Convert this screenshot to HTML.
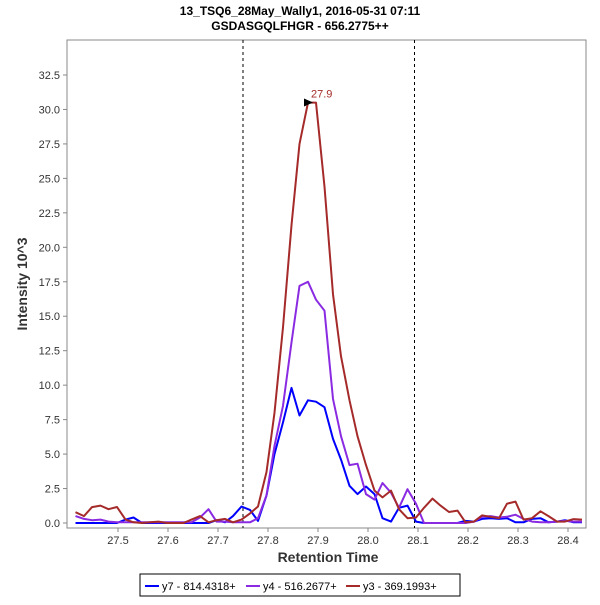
<!DOCTYPE html>
<html><head><meta charset="utf-8"><style>
body{margin:0;background:#fff;font-family:"Liberation Sans",sans-serif}
</style></head><body>
<svg id="chart" width="600" height="600" xmlns="http://www.w3.org/2000/svg" font-family="Liberation Sans, sans-serif">
<text x="300" y="15" text-anchor="middle" font-size="12" font-weight="bold">13_TSQ6_28May_Wally1, 2016-05-31 07:11</text>
<text x="300" y="30" text-anchor="middle" font-size="12" font-weight="bold">GSDASGQLFHGR - 656.2775++</text>
<rect x="67" y="40" width="519" height="488" fill="#fff" stroke="#888" stroke-width="1"/>
<g id="yaxis"></g>
<g id="xaxis"></g>
<g id="marks"></g>
<text transform="translate(27,284) rotate(-90)" text-anchor="middle" font-size="14" font-weight="bold" fill="#333">Intensity 10^3</text>
<text x="328" y="562" text-anchor="middle" font-size="14" font-weight="bold" fill="#333">Retention Time</text>
<g>
<rect x="140" y="574" width="320" height="22" fill="#fff" stroke="#000"/>
<line x1="145" y1="586" x2="159" y2="586" stroke="#0000ff" stroke-width="2"/>
<text x="162" y="590" font-size="11">y7 - 814.4318+</text>
<line x1="246" y1="586" x2="260" y2="586" stroke="#8a2be2" stroke-width="2"/>
<text x="263" y="590" font-size="11">y4 - 516.2677+</text>
<line x1="346" y1="586" x2="360" y2="586" stroke="#a52a2a" stroke-width="2"/>
<text x="363" y="590" font-size="11">y3 - 369.1993+</text>
</g>
</svg>
<script>
const times=[27.415,27.432,27.448,27.465,27.481,27.498,27.515,27.531,27.548,27.564,27.581,27.598,27.614,27.631,27.647,27.664,27.681,27.697,27.714,27.730,27.747,27.764,27.780,27.797,27.813,27.830,27.847,27.863,27.880,27.896,27.913,27.930,27.946,27.963,27.979,27.996,28.013,28.029,28.046,28.062,28.079,28.096,28.112,28.129,28.145,28.162,28.179,28.195,28.212,28.228,28.245,28.262,28.278,28.295,28.311,28.328,28.345,28.361,28.378,28.394,28.411,28.428];
const y7=[0,0,0,0,0,0,0.25,0.4,0,0,0,0,0,0,0,0,0,0.2,0.05,0.5,1.2,0.95,0.15,2.0,5.0,7.3,9.8,7.8,8.9,8.8,8.4,6.1,4.6,2.7,2.1,2.65,2.1,0.35,0.1,1.1,1.26,0.1,0,0,0,0,0,0.15,0.1,0.3,0.35,0.3,0.35,0.05,0.05,0.3,0.35,0.05,0.1,0.2,0.05,0.05];
const y4=[0.5,0.3,0.2,0.25,0.1,0.05,0.05,0.05,0.05,0.05,0.05,0.05,0.05,0.05,0.05,0.4,1.0,0.1,0.1,0.05,0.05,0.05,0.35,2.0,5.6,8.5,13.1,17.2,17.5,16.2,15.4,9.0,6.3,4.2,4.3,2.1,1.7,2.9,2.2,1.1,2.45,1.4,0,0,0,0,0,0,0.1,0.45,0.5,0.4,0.45,0.6,0.3,0.1,0.05,0.05,0.1,0.15,0.1,0.1];
const y3=[0.78,0.5,1.15,1.26,1.0,1.16,0.25,0.05,0,0.05,0.1,0,0,0,0.25,0.5,0.05,0.2,0.3,0.05,0.25,0.7,1.2,3.7,8.0,14.2,21.6,27.5,30.5,30.5,24.4,16.6,12.1,8.9,6.3,4.2,2.35,1.86,2.35,1.0,0.35,0.4,1.1,1.77,1.26,0.8,0.9,0.05,0.1,0.55,0.45,0.35,1.4,1.55,0.25,0.35,0.85,0.5,0.1,0.1,0.28,0.25];
const yTicks=["0.0","2.5","5.0","7.5","10.0","12.5","15.0","17.5","20.0","22.5","25.0","27.5","30.0","32.5"];
const xTicks=["27.5","27.6","27.7","27.8","27.9","28.0","28.1","28.2","28.3","28.4"];
const boundaries=[27.75,28.093];
const peakTime=27.88, peakValue=30.5, peakLabel="27.9";

const NS="http://www.w3.org/2000/svg";
function X(t){return 118+(t-27.5)*500;}
function Y(v){return 523-v*13.785;}
function mk(tag,attrs,parent){const e=document.createElementNS(NS,tag);for(const k in attrs)e.setAttribute(k,attrs[k]);parent.appendChild(e);return e;}
const ya=document.getElementById('yaxis'),xa=document.getElementById('xaxis'),mg=document.getElementById('marks');
yTicks.forEach(s=>{const v=parseFloat(s);const y=Y(v);
 const l=mk('line',{x1:63,x2:67,y1:y,y2:y,stroke:'#888'},ya);
 
 
 const t=mk('text',{x:60,y:y+4,'text-anchor':'end','font-size':11,fill:'#333'},ya);t.textContent=s;
 
 
});
xTicks.forEach(s=>{const x=X(parseFloat(s));
 const l=mk('line',{x1:x,x2:x,y1:528,y2:532,stroke:'#888'},xa);
 
 
 const t=mk('text',{x:x,y:544,'text-anchor':'middle','font-size':11,fill:'#333'},xa);t.textContent=s;
 
 
});
boundaries.forEach(b=>{const l=mk('line',{x1:X(b),x2:X(b),y1:40,y2:528,stroke:'#000','stroke-dasharray':'3,3','stroke-width':1},mg);
 
 
});
[[y7,'#0000ff','series-y7'],[y4,'#8a2be2','series-y4'],[y3,'#a52a2a','series-y3']].forEach(([d,c,n])=>{
 const pts=d.map((v,i)=>X(times[i]).toFixed(1)+','+Y(v).toFixed(1)).join(' ');
 const p=mk('polyline',{points:pts,fill:'none',stroke:c,'stroke-width':2,'stroke-linejoin':'round'},mg);
 
 
});
const px=X(peakTime),py=Y(peakValue);
const tri=mk('polygon',{points:(px-4)+','+(py-4)+' '+(px+5)+','+py+' '+(px-4)+','+(py+4),fill:'#000'},mg);


const pl=mk('text',{x:px+3,y:py-5,'font-size':11,fill:'#a52a2a'},mg);pl.textContent=peakLabel;


</script>
</body></html>
